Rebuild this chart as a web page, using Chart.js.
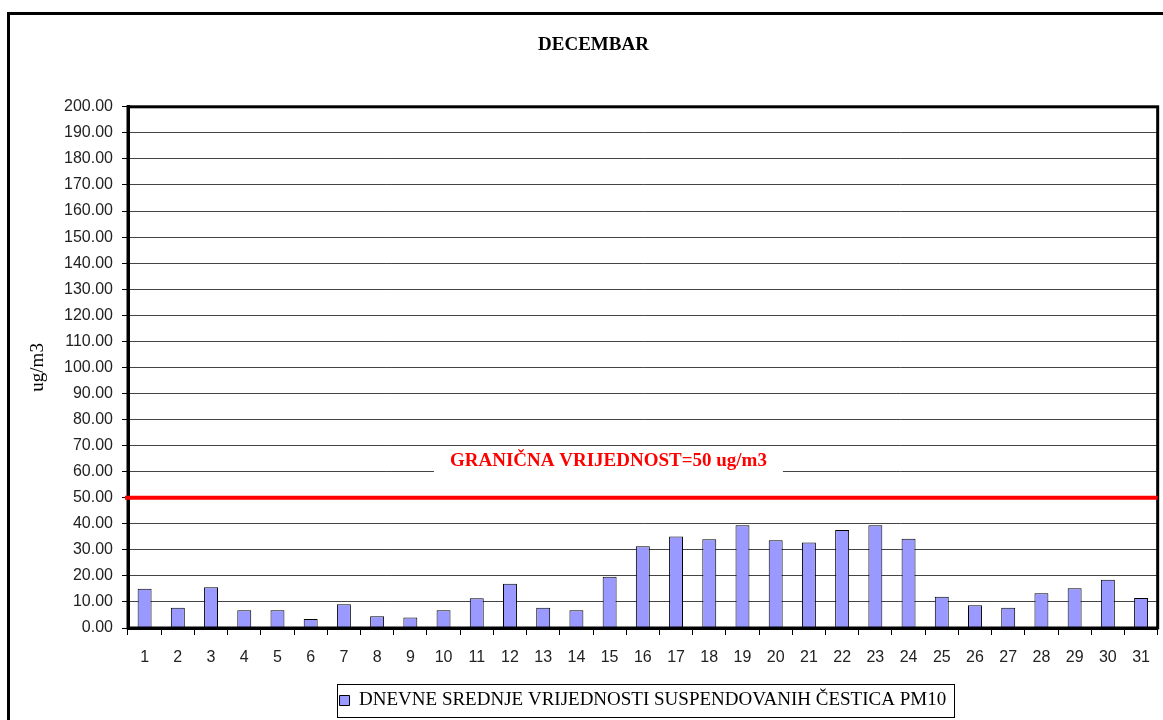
<!DOCTYPE html>
<html>
<head>
<meta charset="utf-8">
<title>DECEMBAR - PM10</title>
<script src="https://cdn.jsdelivr.net/npm/chart.js@4/dist/chart.umd.min.js"></script>
<style>
  html, body { margin: 0; padding: 0; background: #fff; overflow: hidden; }
  #frame {
    position: absolute; left: 7px; top: 12px; width: 1200px; height: 800px;
    border-left: 3px solid #000; border-top: 3px solid #000;
  }
  #wrap { position: absolute; left: 0; top: 0; width: 1163px; height: 720px; }
</style>
</head>
<body>
<div id="frame"></div>
<div id="wrap"><canvas id="pmChart"></canvas></div>
<script>
// Daily PM10 means for December (ug/m3)
const days = ['1','2','3','4','5','6','7','8','9','10','11','12','13','14','15','16',
              '17','18','19','20','21','22','23','24','25','26','27','28','29','30','31'];
const pm10 = [15.1, 7.8, 15.6, 6.8, 6.8, 3.5, 9.1, 4.5, 4.0, 6.8, 11.4, 17.0, 7.8, 6.8, 19.7, 31.4,
              35.1, 34.1, 39.4, 33.7, 32.8, 37.6, 39.4, 34.2, 12.0, 8.7, 7.8, 13.3, 15.3, 18.5, 11.5];
const limitValue = 50;
const limitLabel = 'GRANIČNA VRIJEDNOST=50 ug/m3';
const seriesLabel = 'DNEVNE SREDNJE VRIJEDNOSTI SUSPENDOVANIH ČESTICA PM10';

const serif = "'Liberation Serif', 'Times New Roman', serif";
const sans = "'Liberation Sans', Arial, sans-serif";

// plot frame, red limit line and its label
const limitPlugin = {
  id: 'limitLine',
  afterDatasetsDraw(chart) {
    const { ctx, chartArea: a, scales: { y } } = chart;
    ctx.save();
    ctx.strokeStyle = '#000';
    ctx.lineWidth = 3;
    ctx.strokeRect(a.left, a.top, a.right - a.left, a.bottom - a.top);

    const yLim = y.getPixelForValue(limitValue);
    ctx.strokeStyle = '#ff0000';
    ctx.lineWidth = 4;
    ctx.beginPath();
    ctx.moveTo(a.left - 3, yLim);
    ctx.lineTo(a.right, yLim);
    ctx.stroke();

    ctx.font = 'bold 19px ' + serif;
    const tw = ctx.measureText(limitLabel).width;
    const cx = a.left + (a.right - a.left) * 0.4666;
    const cy = yLim - 37;
    ctx.fillStyle = '#fff';
    ctx.fillRect(cx - tw / 2 - 16, cy - 12, tw + 32, 26);
    ctx.fillStyle = '#ff0000';
    ctx.textAlign = 'center';
    ctx.textBaseline = 'middle';
    ctx.fillText(limitLabel, cx, cy);
    ctx.restore();
  }
};

// border around the legend, like the spreadsheet original
const legendBox = {
  id: 'legendBox',
  afterDraw(chart) {
    const hb = chart.legend && chart.legend.legendHitBoxes && chart.legend.legendHitBoxes[0];
    if (!hb) return;
    const ctx = chart.ctx;
    ctx.save();
    ctx.strokeStyle = '#000';
    ctx.lineWidth = 1;
    ctx.strokeRect(Math.round(hb.left - 3) + 0.5, Math.round(hb.top - 7) + 0.5,
                   Math.round(hb.width + 10), Math.round(hb.height + 14));
    ctx.restore();
  }
};

new Chart(document.getElementById('pmChart'), {
  type: 'bar',
  data: {
    labels: days,
    datasets: [{
      label: seriesLabel,
      data: pm10,
      backgroundColor: '#9999ff',
      borderColor: '#000',
      borderWidth: 1,
      categoryPercentage: 1,
      barPercentage: 0.42
    }]
  },
  options: {
    responsive: true,
    maintainAspectRatio: false,
    animation: false,
    layout: { padding: { left: 26, right: 2, top: 0, bottom: 0 } },
    plugins: {
      title: {
        display: true,
        text: 'DECEMBAR',
        color: '#000',
        font: { family: serif, size: 19, weight: 'bold' },
        padding: { top: 34, bottom: 50 }
      },
      legend: {
        position: 'bottom',
        fullSize: false,
        labels: {
          color: '#000',
          boxWidth: 10,
          boxHeight: 10,
          padding: 3,
          font: { family: serif, size: 19 }
        }
      },
      tooltip: { enabled: false }
    },
    scales: {
      x: {
        afterFit: s => { s.height = 60; },
        grid: { offset: true, drawOnChartArea: false, drawTicks: true, tickLength: 7, color: '#000', lineWidth: 1 },
        border: { display: true, color: '#000', width: 3 },
        ticks: { color: '#222', padding: 13, maxRotation: 0, autoSkip: false, font: { family: sans, size: 16 } }
      },
      y: {
        min: 0,
        max: 200,
        afterFit: s => { s.width = 102; },
        grid: { color: '#444', lineWidth: 1, tickLength: 6, tickColor: '#000' },
        border: { display: true, color: '#000', width: 3 },
        ticks: {
          stepSize: 10,
          color: '#222',
          padding: 9,
          font: { family: sans, size: 16 },
          callback: v => Number(v).toFixed(2)
        },
        title: {
          display: true,
          text: 'ug/m3',
          color: '#000',
          font: { family: serif, size: 19 },
          padding: { top: 1, bottom: 0 }
        }
      }
    }
  },
  plugins: [limitPlugin, legendBox]
});
</script>
</body>
</html>
